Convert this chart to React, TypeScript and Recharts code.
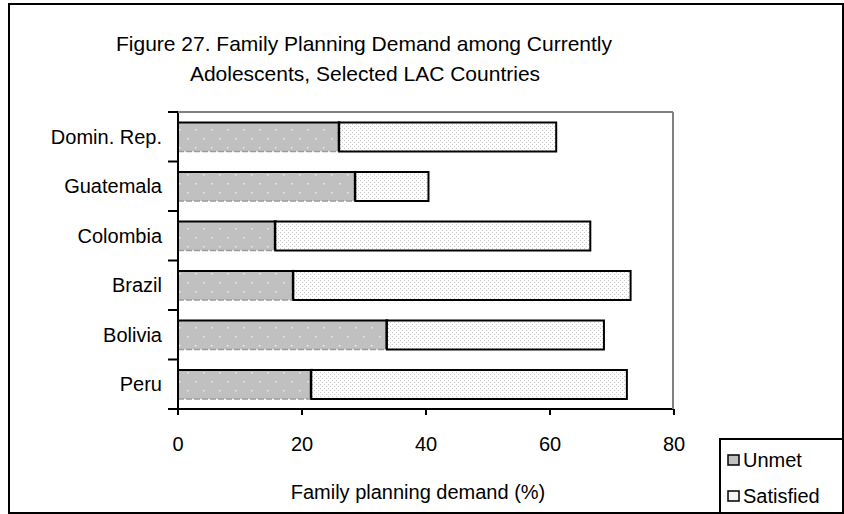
import React from 'react';
import { BarChart, Bar, XAxis, YAxis, Legend } from 'recharts';

// Data (percent)
const countries = ['Domin. Rep.', 'Guatemala', 'Colombia', 'Brazil', 'Bolivia', 'Peru'];
const unmetValues = [26.0, 28.6, 15.7, 18.6, 33.7, 21.5];
const satisfiedValues = [35.0, 11.8, 50.8, 54.4, 35.0, 50.9];
const xTickValues = [0, 20, 40, 60, 80];
const seriesNames = ['Unmet', 'Satisfied'];

const chartData = countries.map((name, i) => ({
  name,
  Unmet: unmetValues[i],
  Satisfied: satisfiedValues[i],
}));

// Layout
const W = 844;
const H = 514;
const PLOT_LEFT = 178;
const PLOT_TOP = 112;
const PLOT_RIGHT = 673;
const PLOT_BOTTOM = 409;
const X_AXIS_H = 40;
const LEGEND_W = 124;
const BAND = (PLOT_BOTTOM - PLOT_TOP) / countries.length;

const fontFamily = '"Liberation Sans", Arial, sans-serif';
const black = '#000000';
const gridGray = '#808080';
const unmetGray = '#C0C0C0';

const CountryTick = (props: any) => {
  const { y, payload, index } = props;
  const last = index === countries.length - 1;
  return (
    <g>
      <text x={PLOT_LEFT - 16} y={y} textAnchor="end" dominantBaseline="central" fontSize={20} fontFamily={fontFamily} fill={black}>
        {payload.value}
      </text>
      <line x1={PLOT_LEFT - 10} x2={PLOT_LEFT} y1={y - BAND / 2} y2={y - BAND / 2} stroke={black} strokeWidth={2} />
      {last && <line x1={PLOT_LEFT - 10} x2={PLOT_LEFT} y1={y + BAND / 2} y2={y + BAND / 2} stroke={black} strokeWidth={2} />}
    </g>
  );
};

// Unmet segment: black top/right edge, faint dashed bottom edge like the original
const UnmetShape = (props: any) => {
  const { x, y, width, height } = props;
  return (
    <g>
      <rect x={x} y={y} width={width} height={height} fill="url(#unmetDots)" />
      <line x1={x} x2={x + width} y1={y} y2={y} stroke={black} strokeWidth={2} />
      <line x1={x + width} x2={x + width} y1={y - 1} y2={y + height} stroke={black} strokeWidth={3} />
      <line x1={x} x2={x + width} y1={y + height} y2={y + height} stroke="#9a9a9a" strokeWidth={1.5} strokeDasharray="6 2" />
    </g>
  );
};

const LegendIcon = ({ kind }: { kind: string }) => (
  <svg width={13} height={12} style={{ marginRight: 3, flex: 'none' }}>
    <rect x={1} y={1} width={11} height={10} fill={kind === 'Unmet' ? unmetGray : '#f4f4f4'} stroke={black} strokeWidth={1.5} />
  </svg>
);

const LegendBox = () => (
  <div
    style={{
      width: LEGEND_W,
      height: 75,
      boxSizing: 'border-box',
      borderLeft: `2px solid ${black}`,
      borderTop: `2px solid ${black}`,
      background: '#fff',
      paddingLeft: 6,
      paddingTop: 5,
      fontFamily,
      fontSize: 20,
      color: black,
    }}
  >
    {seriesNames.map((name) => (
      <div key={name} style={{ display: 'flex', alignItems: 'center', height: 30, marginBottom: 6 }}>
        <LegendIcon kind={name} />
        <span>{name}</span>
      </div>
    ))}
  </div>
);

export default function App() {
  return (
    <div style={{ position: 'absolute', left: 0, top: 0, width: W, height: H, background: '#fff' }}>
      <BarChart
        width={W}
        height={H}
        data={chartData}
        layout="vertical"
        // the right-aligned legend reserves its own width, so take it off the right margin
        margin={{ top: PLOT_TOP, left: 0, right: W - PLOT_RIGHT - LEGEND_W - 1, bottom: H - PLOT_BOTTOM - X_AXIS_H }}
        barCategoryGap="21%"
      >
        <defs>
          <pattern id="unmetDots" width={16} height={18} patternUnits="userSpaceOnUse">
            <rect width={16} height={18} fill={unmetGray} />
            <rect x={3} y={3} width={1.5} height={1.5} fill="#ececec" />
            <rect x={11} y={12} width={1.5} height={1.5} fill="#ececec" />
          </pattern>
          <pattern id="satDots" width={4} height={4} patternUnits="userSpaceOnUse">
            <rect width={4} height={4} fill="#ffffff" />
            <rect x={0} y={0} width={1} height={1} fill="#c8c8c8" />
            <rect x={2} y={2} width={1} height={1} fill="#c8c8c8" />
          </pattern>
        </defs>
        <XAxis
          type="number"
          domain={[0, 80]}
          ticks={xTickValues}
          interval={0}
          axisLine={{ stroke: black, strokeWidth: 2 }}
          tickLine={{ stroke: black, strokeWidth: 2 }}
          tickSize={6}
          tickMargin={22}
          tick={{ fontSize: 20, fontFamily, fill: black }}
          height={X_AXIS_H}
        />
        <YAxis
          type="category"
          dataKey="name"
          width={PLOT_LEFT}
          axisLine={{ stroke: black, strokeWidth: 2 }}
          tickLine={false}
          tick={<CountryTick />}
          interval={0}
        />
        <Legend
          layout="vertical"
          align="right"
          verticalAlign="bottom"
          wrapperStyle={{ position: 'absolute', left: 719, top: 438, width: LEGEND_W, height: 75 }}
          content={<LegendBox />}
        />
        <Bar dataKey="Unmet" stackId="a" fill={unmetGray} shape={<UnmetShape />} isAnimationActive={false} />
        <Bar dataKey="Satisfied" stackId="a" fill="url(#satDots)" stroke={black} strokeWidth={2} isAnimationActive={false} />
      </BarChart>
      <svg width={W} height={H} style={{ position: 'absolute', left: 0, top: 0, pointerEvents: 'none' }}>
        <rect x={9} y={4} width={834} height={509} fill="none" stroke={black} strokeWidth={2} />
        <line x1={PLOT_LEFT} x2={PLOT_RIGHT} y1={PLOT_TOP} y2={PLOT_TOP} stroke={gridGray} strokeWidth={2} />
        <line x1={PLOT_RIGHT} x2={PLOT_RIGHT} y1={PLOT_TOP} y2={PLOT_BOTTOM} stroke={gridGray} strokeWidth={2} />
        <line x1={PLOT_LEFT - 10} x2={PLOT_LEFT} y1={PLOT_TOP} y2={PLOT_TOP} stroke={black} strokeWidth={2} />
        <text x={364} y={51} textAnchor="middle" fontSize={21} fontFamily={fontFamily} fill={black}>
          Figure 27. Family Planning Demand among Currently
        </text>
        <text x={365} y={81} textAnchor="middle" fontSize={21} fontFamily={fontFamily} fill={black}>
          Adolescents, Selected LAC Countries
        </text>
        <text x={418} y={499} textAnchor="middle" fontSize={20} fontFamily={fontFamily} fill={black}>
          Family planning demand (%)
        </text>
      </svg>
    </div>
  );
}
